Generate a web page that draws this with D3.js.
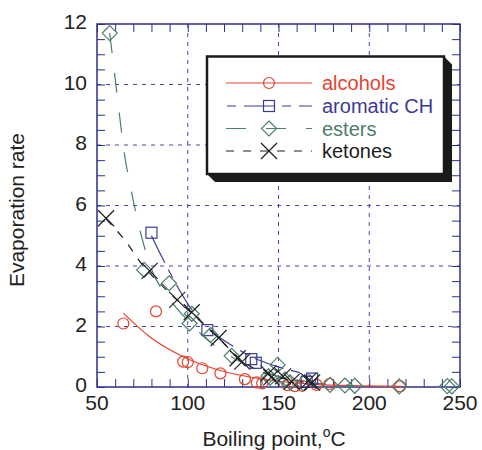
<!DOCTYPE html>
<html lang="en">
<head>
<meta charset="UTF-8">
<title>Evaporation rate vs boiling point</title>
<style>
    body { margin: 0; background: #fff; }
    svg { display: block; font-family: "Liberation Sans", Arial, sans-serif; }
</style>
</head>
<body>
<div id="chart"></div>
<script src="https://cdn.jsdelivr.net/npm/d3@7"></script>
<script>
// ---- data ----
const alcoholsBp   = [64.5, 82.5, 97.5, 100, 108, 118, 131.5, 138, 141, 155, 159, 163, 171, 178, 217];
const alcoholsRate = [2.1, 2.5, 0.84, 0.82, 0.62, 0.45, 0.26, 0.15, 0.12, 0.06, 0.03, 0.04, 0.07, 0.1, 0.02];

const aromaticBp   = [80, 110.8, 135, 137.5, 165.5, 168.5];
const aromaticRate = [5.1, 1.88, 0.92, 0.8, 0.17, 0.28];

const estersBp   = [57, 76, 89.7, 101, 102.2, 112.6, 124.2, 144.5, 145.3, 149.5, 153.6, 156.4, 163.7, 178.4, 186.6, 192, 216.5, 243, 245.5];
const estersRate = [11.7, 3.87, 3.43, 2.1, 2.42, 1.72, 1.03, 0.36, 0.3, 0.73, 0.25, 0.15, 0.12, 0.07, 0.05, 0.04, 0.02, 0.03, 0.02];

const ketonesBp   = [55, 79, 94.2, 102.2, 117, 127.5, 130, 144.5, 146, 152.5, 157.3, 166.5, 168.5];
const ketonesRate = [5.58, 3.84, 2.88, 2.47, 1.62, 0.95, 0.84, 0.45, 0.32, 0.35, 0.18, 0.2, 0.15];

// fitted curves
const alcoholsFitBp   = [64.5, 79, 97.5, 116, 143.5, 170, 195, 218];
const alcoholsFitRate = [2.44, 1.66, 1.0, 0.58, 0.24, 0.09, 0.04, 0.02];

const aromaticFitBp   = [80, 90, 100, 112, 125, 135, 148, 160, 168];
const aromaticFitRate = [5.0, 3.8, 2.75, 1.9, 1.35, 1.0, 0.7, 0.5, 0.38];

const estersFitBp   = [57, 61, 65, 69, 74, 80, 90, 100, 110, 120, 130, 140, 150, 165, 180, 192];
const estersFitRate = [11.7, 9.7, 7.75, 6.45, 5.1, 3.9, 2.9, 2.2, 1.6, 1.15, 0.8, 0.55, 0.35, 0.17, 0.08, 0.05];

const ketonesFitBp   = [55, 65, 75.5, 85, 94, 102, 110, 117, 128, 137, 145, 155, 168];
const ketonesFitRate = [5.55, 4.88, 4.0, 3.4, 2.88, 2.45, 2.0, 1.62, 0.95, 0.6, 0.4, 0.25, 0.13];

const xTicks = [50, 100, 150, 200, 250];
const yTicks = [0, 2, 4, 6, 8, 10, 12];
const legendNames = ['alcohols', 'aromatic CH', 'esters', 'ketones'];

// ---- layout ----
const width = 482, height = 450;
const margin = { top: 24, right: 22, bottom: 63, left: 97 };
const innerWidth = width - margin.left - margin.right;
const innerHeight = height - margin.top - margin.bottom;
const frameColor = '#2e2e8a';

const series = [
    { name: legendNames[0], bp: alcoholsBp, rate: alcoholsRate, fitBp: alcoholsFitBp, fitRate: alcoholsFitRate,
      color: '#e5432f', dash: null, marker: 'circle' },
    { name: legendNames[1], bp: aromaticBp, rate: aromaticRate, fitBp: aromaticFitBp, fitRate: aromaticFitRate,
      color: '#3b3b96', dash: '30,8,9,8', marker: 'square' },
    { name: legendNames[2], bp: estersBp, rate: estersRate, fitBp: estersFitBp, fitRate: estersFitRate,
      color: '#4c7d6b', dash: '20,20', marker: 'diamond' },
    { name: legendNames[3], bp: ketonesBp, rate: ketonesRate, fitBp: ketonesFitBp, fitRate: ketonesFitRate,
      color: '#1e1e1e', dash: '8,9', marker: 'cross' }
];

const svg = d3.select('#chart').append('svg')
    .attr('width', width)
    .attr('height', height);

const g = svg.append('g')
    .attr('transform', `translate(${margin.left},${margin.top})`);

const x = d3.scaleLinear().domain([50, 250]).range([0, innerWidth]);
const y = d3.scaleLinear().domain([0, 12]).range([innerHeight, 0]);

svg.append('defs').append('clipPath').attr('id', 'plot-clip')
    .append('rect').attr('width', innerWidth).attr('height', innerHeight);

// grid lines
g.append('g').selectAll('line')
    .data(xTicks.slice(1, -1))
    .join('line')
    .attr('x1', d => x(d)).attr('x2', d => x(d))
    .attr('y1', 0).attr('y2', innerHeight)
    .attr('stroke', '#4a4aa6').attr('stroke-dasharray', '4,5');

g.append('g').selectAll('line')
    .data(yTicks.slice(1, -1))
    .join('line')
    .attr('x1', 0).attr('x2', innerWidth)
    .attr('y1', d => y(d)).attr('y2', d => y(d))
    .attr('stroke', '#4a4aa6').attr('stroke-dasharray', '4,5');

// axes with inward ticks on all four sides
const tickLen = 8;
const xMinor = d3.range(50, 251, 10);
const yMinor = d3.range(0, 12.01, 0.5);

function styleAxis(sel) {
    sel.select('.domain').remove();
    sel.selectAll('.tick text').remove();
    sel.selectAll('.tick line').attr('stroke', frameColor).attr('stroke-width', 1);
}

g.append('g').attr('transform', `translate(0,${innerHeight})`)
    .call(d3.axisBottom(x).tickValues(xMinor).tickSize(-tickLen))
    .call(styleAxis);
g.append('g')
    .call(d3.axisTop(x).tickValues(xMinor).tickSize(-tickLen))
    .call(styleAxis);
g.append('g')
    .call(d3.axisLeft(y).tickValues(yMinor).tickSize(-tickLen))
    .call(styleAxis);
g.append('g').attr('transform', `translate(${innerWidth},0)`)
    .call(d3.axisRight(y).tickValues(yMinor).tickSize(-tickLen))
    .call(styleAxis);

// tick labels (absolute page coordinates)
svg.append('g').selectAll('text')
    .data(xTicks)
    .join('text')
    .attr('x', d => margin.left + x(d))
    .attr('y', margin.top + innerHeight + 23)
    .attr('text-anchor', 'middle')
    .attr('font-size', 21)
    .attr('fill', '#222')
    .text(d => d);

svg.append('g').selectAll('text')
    .data(yTicks)
    .join('text')
    .attr('x', margin.left - 10)
    .attr('y', d => margin.top + y(d) + 5)
    .attr('text-anchor', 'end')
    .attr('font-size', 21)
    .attr('fill', '#222')
    .text(d => d);

// frame
g.append('rect')
    .attr('width', innerWidth).attr('height', innerHeight)
    .attr('fill', 'none').attr('stroke', frameColor).attr('stroke-width', 1.5);

// fitted curves
const line = d3.line()
    .x(d => x(d[0]))
    .y(d => y(d[1]))
    .curve(d3.curveMonotoneX);

const curves = g.append('g').attr('clip-path', 'url(#plot-clip)');
series.forEach(s => {
    curves.append('path')
        .datum(d3.zip(s.fitBp, s.fitRate))
        .attr('d', line)
        .attr('fill', 'none')
        .attr('stroke', s.color)
        .attr('stroke-width', 1.2)
        .attr('stroke-dasharray', s.dash);
});

// markers
function drawMarker(sel, type, color) {
    if (type === 'circle') {
        sel.append('circle').attr('r', 5.5);
    } else if (type === 'square') {
        sel.append('rect').attr('x', -5.5).attr('y', -5.5).attr('width', 11).attr('height', 11);
    } else if (type === 'diamond') {
        sel.append('path').attr('d', 'M0,-7.5L7.5,0L0,7.5L-7.5,0Z');
    } else {
        sel.append('path').attr('d', 'M-8,-8L8,8M-8,8L8,-8');
    }
    sel.selectAll('*')
        .attr('fill', 'none')
        .attr('stroke', color)
        .attr('stroke-width', 1.2);
}

series.forEach(s => {
    g.append('g').selectAll('g')
        .data(d3.zip(s.bp, s.rate))
        .join('g')
        .attr('transform', d => `translate(${x(d[0])},${y(d[1])})`)
        .each(function () { drawMarker(d3.select(this), s.marker, s.color); });
});

// axis titles
const xTitle = svg.append('text')
    .attr('x', 274)
    .attr('y', 446)
    .attr('text-anchor', 'middle')
    .attr('font-size', 21)
    .attr('fill', '#222');
xTitle.append('tspan').text('Boiling point,');
xTitle.append('tspan').attr('font-size', 14).attr('dy', -9).text('o');
xTitle.append('tspan').attr('dy', 9).text('C');

// rotated about its own anchor so the unrotated box stays on the page
svg.append('text')
    .attr('x', 110)
    .attr('y', 210)
    .attr('transform', 'translate(-86,0) rotate(-90,110,210)')
    .attr('text-anchor', 'middle')
    .attr('font-size', 21)
    .attr('fill', '#222')
    .text('Evaporation rate');

// legend
const lg = svg.append('g');
const box = { x0: 207, y0: 56.5, x1: 444, y1: 174, sh: 8 };
lg.append('path')
    .attr('d', `M${box.x1},${box.y0}L${box.x1 + box.sh},${box.y0 + box.sh}L${box.x1 + box.sh},${box.y1 + box.sh}` +
        `L${box.x0 + box.sh},${box.y1 + box.sh}L${box.x0},${box.y1}Z`)
    .attr('fill', '#1a1a1a');
lg.append('rect')
    .attr('x', box.x0).attr('y', box.y0)
    .attr('width', box.x1 - box.x0).attr('height', box.y1 - box.y0)
    .attr('fill', '#fff').attr('stroke', '#1a1a1a').attr('stroke-width', 2.5);

const rowY = [83, 106, 128.5, 151];
series.forEach((s, i) => {
    lg.append('line')
        .attr('x1', 226).attr('x2', 312)
        .attr('y1', rowY[i]).attr('y2', rowY[i])
        .attr('stroke', s.color)
        .attr('stroke-width', 1.2)
        .attr('stroke-dasharray', s.dash)
        .attr('stroke-dashoffset', i === 1 ? -18 : 0);
    const m = lg.append('g').attr('transform', `translate(269,${rowY[i]})`);
    drawMarker(m, s.marker, s.color);
    lg.append('text')
        .attr('x', 322)
        .attr('y', rowY[i] + 7)
        .attr('font-size', 20)
        .attr('fill', s.color)
        .text(s.name);
});
</script>
</body>
</html>
